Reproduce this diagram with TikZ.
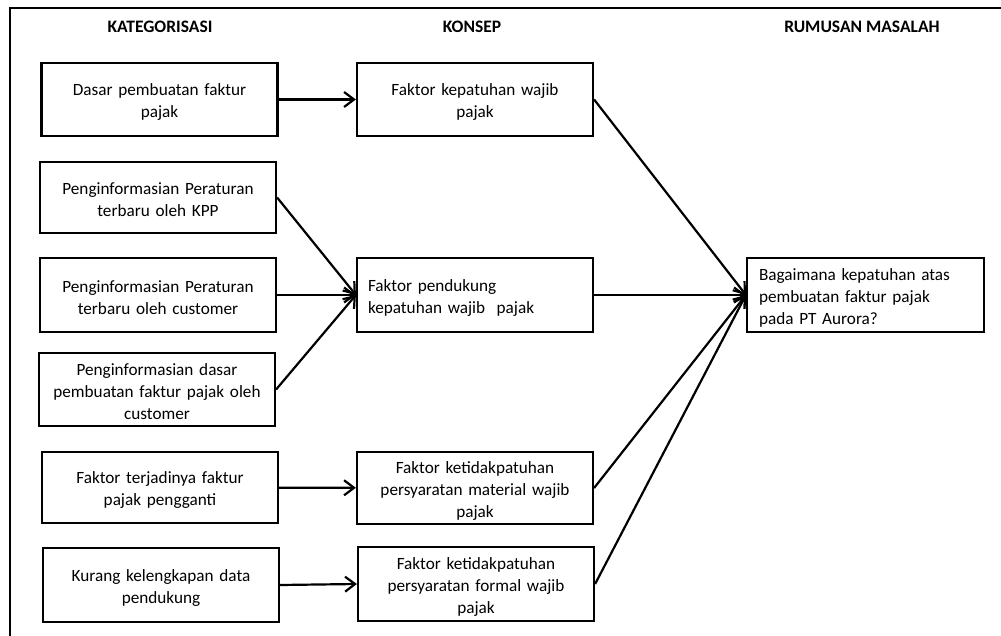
\documentclass[tikz,border=0pt]{standalone}
\usepackage{fontspec}
\setmainfont{Carlito}
\usetikzlibrary{arrows.meta}
\begin{document}
\begin{tikzpicture}[x=1pt,y=-1pt,
  txt/.style={font=\fontsize{17.2}{22}\selectfont},
  head/.style={font=\fontsize{17.5}{20}\selectfont\bfseries, inner sep=0pt},
  boxbase/.style={draw, line width=2.2pt, txt, inner ysep=0pt,
    execute at begin node={\rule{0pt}{17pt}}},
  cbox/.style={boxbase, inner xsep=5pt, text width=226pt, align=center,
    minimum height=73pt},
  lbox/.style={boxbase, inner xsep=11pt, text width=214pt, align=left,
    minimum height=74pt},
  conn/.style={line width=2.2pt, -{Straight Barb[length=10pt,width=15pt]}}
]
\useasboundingbox (0,0) rectangle (1001,636);

% outer frame (top and left edges)
\draw[line width=2.2pt] (1001,8) -- (10,8) -- (10,636);

% column headings
\node[head] (hA) at (160,27) {KATEGORISASI};
\node[head] (hK) at (472,27) {KONSEP};
\node[head] (hR) at (862,27) {RUMUSAN MASALAH};

% categorisation column
\node[cbox] (a1) at (159.5,99.5) {Dasar pembuatan faktur\\pajak};
\node[cbox, minimum height=71pt] (a2) at (158,197.5) {Penginformasian Peraturan\\terbaru oleh KPP};
\node[cbox, minimum height=74pt] (a3) at (158,295) {Penginformasian Peraturan\\terbaru oleh customer};
\node[cbox] (a4) at (157,389.5) {Penginformasian dasar\\pembuatan faktur pajak oleh\\customer};
\node[cbox, minimum height=71pt] (a5) at (160,487.5) {Faktor terjadinya faktur\\pajak pengganti};
\node[cbox, minimum height=74pt] (a6) at (161,585) {Kurang kelengkapan data\\pendukung};

% concept column
\node[cbox] (k1) at (475,99.5) {Faktor kepatuhan wajib\\pajak};
\node[lbox] (k2) at (475,295) {Faktor pendukung\\kepatuhan wajib\ \ pajak};
\node[cbox, minimum height=72pt] (k3) at (475,488) {Faktor ketidakpatuhan\\persyaratan material wajib\\pajak};
\node[cbox, minimum height=74pt] (k4) at (476,584) {Faktor ketidakpatuhan\\persyaratan formal wajib\\pajak};

% research question
\node[lbox, text width=213pt, inner xsep=12pt] (r) at (865.5,295) {Bagaimana kepatuhan atas\\pembuatan faktur pajak\\pada PT Aurora?};

% categorisation -> concept
\draw[conn] (a1) -- (k1);
\draw[conn] (a2.east) -- (k2.west);
\draw[conn] (a3.east) -- (k2.west);
\draw[conn] (a4.east) -- (k2.west);
\draw[conn] (a5) -- (k3);
\draw[conn] (a6.east) -- (k4.west);

% concept -> research question
\draw[conn] (k1.east) -- (r.west);
\draw[conn] (k2.east) -- (r.west);
\draw[conn] (k3.east) -- (r.west);
\draw[conn] (k4.east) -- (r.west);
\end{tikzpicture}
\end{document}
